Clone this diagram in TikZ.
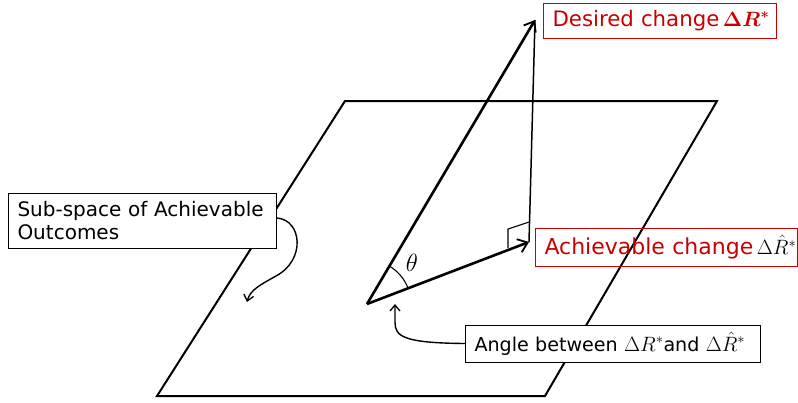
\documentclass[tikz,border=0pt]{standalone}
\usepackage{amsmath}
\usepackage{bm}
\usepackage{fontspec}
\setmainfont{DejaVu Sans}
\usetikzlibrary{arrows.meta}
\definecolor{boxred}{RGB}{200,0,0}
\begin{document}
\begin{tikzpicture}[x=1pt,y=-1pt,
  plane/.style={line width=2pt, line join=miter},
  vec/.style={line width=2.6pt, -{Straight Barb[length=9pt,width=14pt,line width=1.8pt]}},
  thinline/.style={line width=1.5pt},
  callout/.style={line width=1.4pt, -{Straight Barb[length=6pt,width=10pt,line width=1.3pt]}},
  redbox/.style={draw=boxred, line width=1pt, text=boxred, inner xsep=9pt, inner ysep=0pt, align=left, anchor=west},
  blackbox/.style={draw=black, line width=1pt, fill=white, inner xsep=9pt, inner ysep=0pt, align=left, anchor=west}
]
\useasboundingbox (0,0) rectangle (798,402);
% plane
\coordinate (p1) at (345,101);
\coordinate (p2) at (717,101);
\coordinate (p3) at (545,396);
\coordinate (p4) at (157,396);
\draw[plane] (p1) -- (p2) -- (p3) -- (p4) -- cycle;
% vectors
\coordinate (O) at (367,304);
\coordinate (D) at (535,20);
\coordinate (A) at (529,242);
\draw[thinline] (D) -- (A);
\draw[vec] (O) -- (D);
\draw[vec] (O) -- (A);
% right angle marker
\coordinate (r1) at (529,222);
\coordinate (r2) at (508,229);
\coordinate (r3) at (508,248);
\draw[line width=1.1pt] (r1) -- (r2) -- (r3);
% theta arc
\draw[line width=1.1pt] ([shift={(59.4:44pt)}]O) arc[start angle=59.4, end angle=20.9, radius=44pt];
\node (theta) at (412,263) {\fontsize{28}{30}\selectfont$\theta$};
% boxes
\node[redbox, font=\fontsize{21.3}{24}\selectfont, text width=215pt, minimum height=35pt] (desired) at (543,20.5) {\mbox{Desired change\,{\fontsize{22}{24}\selectfont$\bm{\Delta R^{*}}$}}};
\node[redbox, font=\fontsize{22}{25}\selectfont, text width=244pt, minimum height=38pt] (achiev) at (535,247) {\mbox{Achievable change\,{\color{black}$\Delta\hat{R}^{*}$}}};
\node[blackbox, font=\fontsize{20}{23.5}\selectfont, text width=250pt, minimum height=55pt] (sub) at (8,220.5) {Sub-space of Achievable\\Outcomes};
\node[blackbox, font=\fontsize{19.1}{23}\selectfont, text width=277pt, minimum height=37pt] (angle) at (465,343.5) {\mbox{Angle between {\fontsize{20}{23}\selectfont$\Delta R^{*}$}and {\fontsize{20}{23}\selectfont$\Delta\hat{R}^{*}$}}};
% callout arrows
\coordinate (subtip) at (247,302);
\draw[callout] (sub.east |- 0,218) .. controls (302,220) and (306,260) .. (276,276) .. controls (260,285) and (250,290) .. (subtip);
\coordinate (angtip) at (395,304);
\draw[callout] (angle.west) .. controls (402,343) and (395,336) .. (395,322) -- (angtip);
\end{tikzpicture}
\end{document}
